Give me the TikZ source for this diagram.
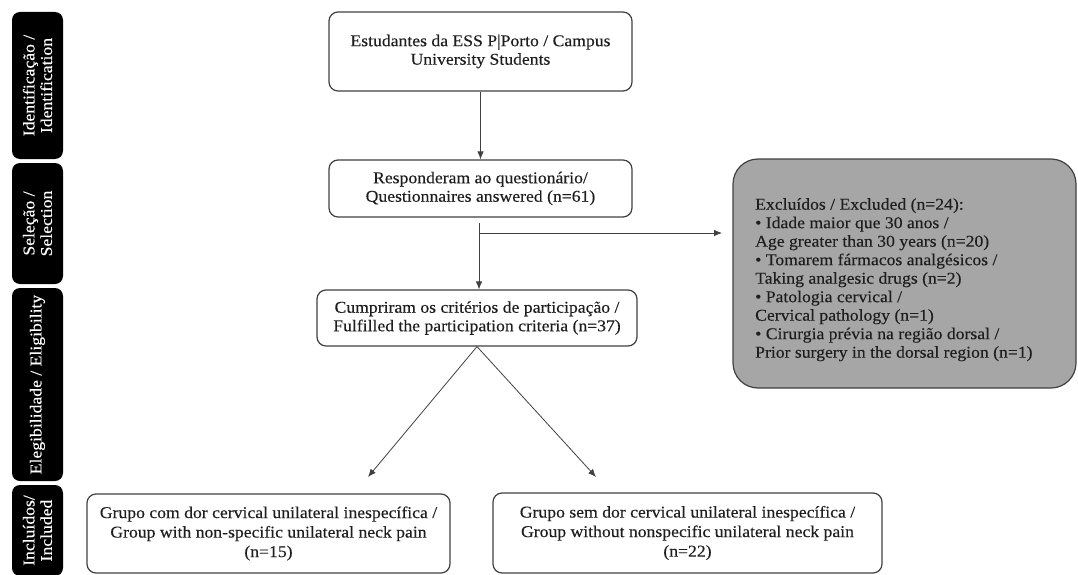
\documentclass[tikz,border=0pt]{standalone}
\usepackage{fontspec}
\setmainfont{Liberation Serif}[FakeStretch=1.07,FakeBold=0.25]
\usetikzlibrary{arrows.meta}
\definecolor{linegray}{HTML}{404040}
\definecolor{boxgray}{HTML}{A6A6A6}
\definecolor{txt}{HTML}{1E1E1E}

\begin{document}
\begin{tikzpicture}[x=1pt,y=-1pt,
  every node/.style={font=\fontsize{16.5}{18.5}\selectfont, text=txt},
  stagebox/.style={fill=black, rounded corners=8pt, minimum height=51pt, inner sep=0pt, text=white, rotate=90, align=center, font=\fontsize{16.5}{17.5}\selectfont},
  flowbox/.style={draw=linegray, line width=1.2pt, rounded corners=9pt, align=center, inner sep=0pt},
  exclbox/.style={draw=linegray, fill=boxgray, line width=1.2pt, rounded corners=25pt},
  conn/.style={draw=linegray, line width=0.8pt, -{Latex[length=8pt,width=6.5pt]}},
]
\useasboundingbox (0,0) rectangle (1078,575);

% stage bars
\node[stagebox, minimum width=147pt] (stId) at (37.5,85.5) {Identificação /\\Identification};
\node[stagebox, minimum width=121pt] (stSel) at (37.5,223.5) {Seleção /\\Selection};
\node[stagebox, minimum width=193pt] (stEl) at (37.5,384.5) {Elegibilidade / Eligibility};
\node[stagebox, minimum width=91pt] (stIn) at (37.5,530.5) {Incluídos/\\Included};

% flow boxes
\node[flowbox, minimum width=303pt, minimum height=79pt] (univ) at (480.5,51.5)
  {Estudantes da ESS P|Porto / Campus\\University Students};
\node[flowbox, minimum width=303pt, minimum height=57pt] (resp) at (480.5,188.5)
  {Responderam ao questionário/\\Questionnaires answered (n=61)};
\node[flowbox, minimum width=320pt, minimum height=56pt] (crit) at (477,318)
  {Cumpriram os critérios de participação /\\Fulfilled the participation criteria (n=37)};
\node[flowbox, minimum width=363pt, minimum height=79pt, font=\fontsize{16.5}{19.5}\selectfont] (grpA) at (268.5,533.5)
  {Grupo com dor cervical unilateral inespecífica /\\Group with non-specific unilateral neck pain\\(n=15)};
\node[flowbox, minimum width=389pt, minimum height=80pt, font=\fontsize{16.5}{19.5}\selectfont] (grpB) at (687.5,533)
  {Grupo sem dor cervical unilateral inespecífica /\\Group without nonspecific unilateral neck pain\\(n=22)};

% excluded box
\node[exclbox, minimum width=343pt, minimum height=229pt] (excl) at (904.5,273.5) {};
\node[anchor=north west, align=left, inner sep=0pt] (exclTxt) at (755,198)
  {Excluídos / Excluded (n=24):\\
   • Idade maior que 30 anos /\\
   Age greater than 30 years (n=20)\\
   • Tomarem fármacos analgésicos /\\
   Taking analgesic drugs (n=2)\\
   • Patologia cervical /\\
   Cervical pathology (n=1)\\
   • Cirurgia prévia na região dorsal /\\
   Prior surgery in the dorsal region (n=1)};

% connectors
\coordinate (respOut) at (479,223);
\coordinate (branch) at (479,233);
\coordinate (exclIn) at (722,233);
\coordinate (tipA) at (368,477);
\coordinate (tipB) at (596,477);

\draw[conn] (univ.south) -- (resp.north);
\draw[conn] (respOut) -- (respOut |- crit.north);
\draw[conn] (branch) -- (exclIn);
\draw[conn] (crit.south) -- (tipA);
\draw[conn] (crit.south) -- (tipB);
\end{tikzpicture}
\end{document}
